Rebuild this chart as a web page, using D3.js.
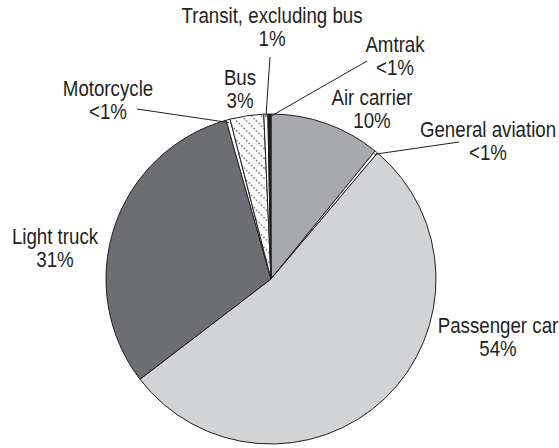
<!DOCTYPE html>
<html>
<head>
<meta charset="utf-8">
<script src="https://cdn.jsdelivr.net/npm/d3@7/dist/d3.min.js"></script>
<style>
  body { margin: 0; background: #fff; }
  svg text { font-family: "Liberation Sans", Arial, sans-serif; font-size: 21.5px; fill: #231f20; }
</style>
</head>
<body>
<div id="chart"></div>
<script>
// data (share of total, %)
var categories = ["Air carrier", "General aviation", "Passenger car", "Light truck",
                  "Motorcycle", "Bus", "Transit, excluding bus", "Amtrak"];
var shares = [10.9, 0.3, 53.6, 31.1, 0.4, 3.3, 0.4, 0.3];
var shareLabels = ["10%", "<1%", "54%", "31%", "<1%", "3%", "1%", "<1%"];

// styles
var fills = ["#a7a9ac", "#fff", "#d1d3d4", "#6d6e71", "#fff", "url(#dots)", "#fff", "#231f20"];
// label anchor (centre x, first baseline) relative to pie centre
var labelOffsets = [[101, -174], [217, -142], [227, 54], [-216, -35],
                    [-163, -183], [-31, -194], [1, -256], [124, -227]];
// leader line end points relative to pie centre (null = no line)
var leaderEnds = [null, [188, -137], null, null, [-134, -170], null, [-1, -222], [96, -218]];
var condense = 0.87;   // the original face is a condensed sans
var lineGap = 23;

var width = 559, height = 448;
var cx = 271, cy = 279, radius = 165;

var svg = d3.select("#chart").append("svg")
    .attr("width", width)
    .attr("height", height);

var pat = svg.append("defs").append("pattern")
    .attr("id", "dots")
    .attr("patternUnits", "userSpaceOnUse")
    .attr("width", 7).attr("height", 7)
    .attr("patternTransform", "rotate(-45)");
pat.append("rect").attr("width", 7).attr("height", 7).attr("fill", "#fff");
pat.append("line")
    .attr("x1", 3.5).attr("y1", 0).attr("x2", 3.5).attr("y2", 7)
    .attr("stroke", "#231f20")
    .attr("stroke-width", 1.2)
    .attr("stroke-dasharray", "1.2 2.3");

var pie = d3.pie().sort(null).value(function(d) { return d; });
var arc = d3.arc().innerRadius(0).outerRadius(radius);
var arcs = pie(shares);

var g = svg.append("g").attr("transform", "translate(" + cx + "," + cy + ")");

g.selectAll("path")
  .data(arcs)
  .enter().append("path")
    .attr("d", arc)
    .attr("fill", function(d, i) { return fills[i]; })
    .attr("stroke", "#231f20")
    .attr("stroke-width", 1)
    .attr("stroke-linejoin", "round");

// leader lines
g.selectAll("line.leader")
  .data(arcs.filter(function(d, i) { return leaderEnds[i]; }))
  .enter().append("line")
    .attr("class", "leader")
    .attr("x1", function(d) { var a = (d.startAngle + d.endAngle) / 2; return Math.sin(a) * (radius - 3); })
    .attr("y1", function(d) { var a = (d.startAngle + d.endAngle) / 2; return -Math.cos(a) * (radius - 3); })
    .attr("x2", function(d) { return leaderEnds[d.index][0]; })
    .attr("y2", function(d) { return leaderEnds[d.index][1]; })
    .attr("stroke", "#231f20")
    .attr("stroke-width", 1);

var label = g.selectAll("text.lbl")
  .data(arcs)
  .enter().append("text")
    .attr("class", "lbl")
    .attr("text-anchor", "middle")
    .attr("transform", function(d, i) {
      return "translate(" + labelOffsets[i][0] + "," + labelOffsets[i][1] + ") scale(" + condense + ",1)";
    });

label.append("tspan").attr("x", 0).attr("y", 0).text(function(d, i) { return categories[i]; });
label.append("tspan").attr("x", 0).attr("y", lineGap).text(function(d, i) { return shareLabels[i]; });
</script>
</body>
</html>
